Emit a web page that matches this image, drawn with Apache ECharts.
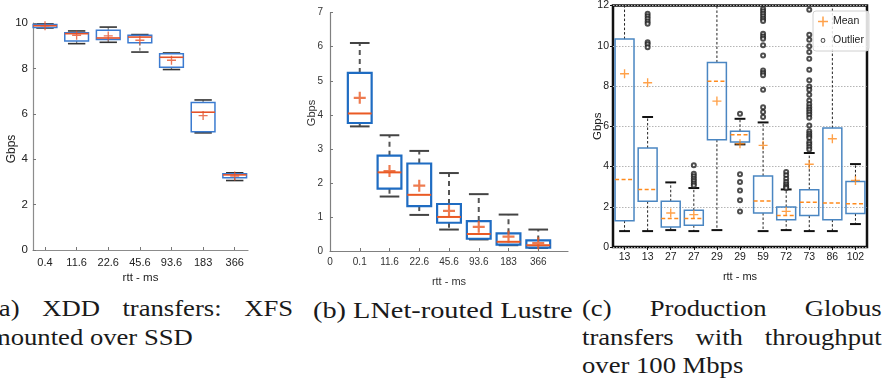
<!DOCTYPE html>
<html>
<head>
<meta charset="utf-8">
<script src="https://cdn.jsdelivr.net/npm/echarts@6.0.0/dist/echarts.min.js"></script>
<style>
    html, body { margin: 0; padding: 0; background: #fff; }
    body { width: 882px; height: 383px; position: relative; overflow: hidden; }
    #chart { position: absolute; left: 0; top: 0; width: 882px; height: 292px; }
    .cap {
        position: absolute;
        font-family: 'Liberation Serif', serif;
        font-size: 24px;
        line-height: 28.5px;
        color: #1a1a1a;
        transform-origin: 0 0;
    }
    .cap .j { text-align: justify; text-align-last: justify; }
    .cap .n { white-space: nowrap; }
</style>
</head>
<body>
<div id="chart"></div>
<div class="cap" style="left:-10px; top:294px; width:273px; transform:scaleX(1.11);">
    <div class="j">(a) XDD transfers: XFS</div>
    <div class="n">mounted over SSD</div>
</div>
<div class="cap" style="left:313px; top:296px; transform:scaleX(1.18);">
    <div class="n">(b) LNet-routed Lustre</div>
</div>
<div class="cap" style="left:582px; top:294px; width:270px; transform:scaleX(1.11);">
    <div class="j">(c) Production Globus</div>
    <div class="j">transfers with throughput</div>
    <div class="n">over 100 Mbps</div>
</div>
<script>
// (a) XDD transfers
var catsA = ['0.4', '11.6', '22.6', '45.6', '93.6', '183', '366'];
var lowA = [9.78, 9.09, 9.15, 8.72, 7.95, 5.16, 3.06];
var q1A = [9.80, 9.21, 9.27, 9.13, 8.05, 5.21, 3.18];
var medA = [9.88, 9.53, 9.34, 9.38, 8.49, 6.07, 3.31];
var q3A = [9.93, 9.57, 9.68, 9.46, 8.64, 6.50, 3.36];
var highA = [9.96, 9.65, 9.82, 9.49, 8.68, 6.61, 3.40];
var meanA = [9.88, 9.46, 9.43, 9.24, 8.36, 5.92, 3.26];

// (b) LNet-routed Lustre
var catsB = ['0.1', '11.6', '22.6', '45.6', '93.6', '183', '366'];
var lowB = [3.66, 1.60, 1.06, 0.63, 0.34, 0.17, 0.09];
var q1B = [3.76, 1.83, 1.32, 0.83, 0.36, 0.19, 0.10];
var medB = [4.04, 2.31, 1.65, 1.00, 0.50, 0.27, 0.17];
var q3B = [5.23, 2.80, 2.57, 1.38, 0.88, 0.52, 0.31];
var highB = [6.11, 3.40, 2.94, 2.29, 1.67, 1.07, 0.63];
var meanB = [4.50, 2.35, 1.92, 1.18, 0.71, 0.42, 0.23];

// (c) Production Globus transfers (whiskers above 12 run off the plot)
var catsC = ['13', '13', '27', '27', '29', '29', '59', '72', '73', '86', '102'];
var lowC = [0.79, 0.79, 0.84, 0.79, 0.84, 5.10, 0.79, 0.84, 0.79, 0.79, 1.14];
var q1C = [1.31, 2.27, 0.99, 1.08, 5.33, 5.22, 1.69, 1.36, 1.56, 1.36, 1.66];
var medC = [3.36, 2.86, 1.41, 1.41, 8.23, 5.58, 2.28, 1.57, 2.22, 2.19, 2.15];
var q3C = [10.33, 4.92, 2.27, 1.82, 9.17, 5.75, 3.53, 1.99, 2.85, 5.91, 3.26];
var highC = [14, 6.46, 3.21, 2.93, 14, 6.37, 6.19, 2.86, 4.67, 14, 4.12];
var meanC = [8.61, 8.16, 1.69, 1.61, 7.25, 5.13, 5.05, 1.77, 4.11, 5.38, 3.31];
var outC = [
    [],
    [11.59, 11.46, 11.34, 11.21, 11.09, 10.18, 10.07, 9.93],
    [],
    [4.06, 3.64, 3.51, 3.39, 3.28, 3.15, 3.06],
    [],
    [6.62, 3.61, 3.23, 2.81, 2.32, 1.77],
    [11.84, 11.72, 11.59, 11.47, 11.34, 11.23, 10.60, 10.46, 10.35, 10.02, 9.52, 8.77, 8.64, 8.53, 7.81, 6.95, 6.71, 6.46],
    [3.73, 3.56, 3.39, 3.23, 3.11, 3.01, 2.93],
    [11.79, 10.55, 10.30, 9.98, 9.69, 9.35, 8.81, 8.28, 7.98, 7.81, 7.57, 7.28, 7.09, 6.95, 6.82, 6.69, 6.57, 6.42, 6.04, 5.75, 5.63, 5.51, 5.41, 5.22, 5.10, 4.97, 4.85],
    [],
    []
];

var SANS = '"Liberation Sans", Arial, sans-serif';
var PLUS_THIN = 'path://M0,4.25H10V5.75H0ZM4.25,0H5.75V10H4.25Z';
var PLUS_BOLD = 'path://M0,4.1H10V5.9H0ZM4.1,0H5.9V10H4.1Z';
var RING = 'path://M0,0M10,10M5,2.6A2.4,2.4,0,1,1,5,7.4A2.4,2.4,0,1,1,5,2.6ZM5,3.6A1.4,1.4,0,1,0,5,6.4A1.4,1.4,0,1,0,5,3.6Z';

function boxData (offset, low, q1, med, q3, high) {
    return low.map(function (v, i) {
        return [i + offset, v, q1[i], med[i], q3[i], high[i]];
    });
}

function pointData (offset, vals) {
    return vals.map(function (v, i) { return [i + offset, v]; });
}

// box, whiskers, caps and median drawn through the axes of the grid
function makeBox (st) {
    return function (params, api) {
        var cs = params.coordSys;
        var top = cs.y, bottom = cs.y + cs.height;
        var x = api.value(0);
        var band = api.size([1, 0])[0];
        var half = band * st.box / 2;
        var capHalf = band * st.cap / 2;
        var pLo = api.coord([x, api.value(1)]);
        var pQ1 = api.coord([x, api.value(2)]);
        var pMed = api.coord([x, api.value(3)]);
        var pQ3 = api.coord([x, api.value(4)]);
        var pHi = api.coord([x, api.value(5)]);
        var cx = pMed[0];
        var kids = [];
        function wStyle () {
            return { stroke: st.whisker, lineWidth: st.whiskerWidth, lineDash: st.dash };
        }
        function cStyle () {
            return { stroke: st.capColor, lineWidth: st.capWidth };
        }
        kids.push({ type: 'line', shape: { x1: cx, y1: pQ3[1], x2: cx, y2: Math.max(pHi[1], top) }, style: wStyle() });
        kids.push({ type: 'line', shape: { x1: cx, y1: pQ1[1], x2: cx, y2: Math.min(pLo[1], bottom) }, style: wStyle() });
        if (pHi[1] >= top) {
            kids.push({ type: 'line', shape: { x1: cx - capHalf, y1: pHi[1], x2: cx + capHalf, y2: pHi[1] }, style: cStyle() });
        }
        if (pLo[1] <= bottom) {
            kids.push({ type: 'line', shape: { x1: cx - capHalf, y1: pLo[1], x2: cx + capHalf, y2: pLo[1] }, style: cStyle() });
        }
        kids.push({
            type: 'rect',
            shape: { x: cx - half, y: pQ3[1], width: half * 2, height: pQ1[1] - pQ3[1] },
            style: { fill: 'none', stroke: st.boxColor, lineWidth: st.boxWidth }
        });
        kids.push({
            type: 'line',
            shape: { x1: cx - half, y1: pMed[1], x2: cx + half, y2: pMed[1] },
            style: { stroke: st.medColor, lineWidth: st.medWidth, lineDash: st.medDash }
        });
        return { type: 'group', children: kids };
    };
}

var styleA = { box: 0.75, cap: 0.55, boxColor: '#3b7bd0', boxWidth: 1.5, medColor: '#e5532a', medWidth: 1.6,
    whisker: '#777', whiskerWidth: 1.2, dash: [3, 2], capColor: '#333', capWidth: 1.6, medDash: null };
var styleB = { box: 0.8, cap: 0.66, boxColor: '#1f6cc2', boxWidth: 2.2, medColor: '#ea5a24', medWidth: 2,
    whisker: '#555', whiskerWidth: 2, dash: [5, 4], capColor: '#444', capWidth: 2, medDash: null };
var styleC = { box: 0.82, cap: 0.47, boxColor: '#4a86c2', boxWidth: 1.5, medColor: '#ff8a1c', medWidth: 1.5,
    whisker: '#222', whiskerWidth: 1, dash: [2.5, 2], capColor: '#111', capWidth: 2, medDash: [4, 2.5] };

var outData = [];
outC.forEach(function (list, i) {
    list.forEach(function (v) { outData.push([i, v]); });
});

var idx = [1, 2, 3, 4, 5, 6, 7];

var option = {
    animation: false,
    backgroundColor: 'transparent',
    grid: [
        { left: 33, top: 23, width: 215, height: 227 },
        { left: 330, top: 12.7, width: 238, height: 242.6 },
        { left: 613, top: 5, width: 254, height: 242, show: true, borderColor: '#111', borderWidth: 2.5, backgroundColor: 'transparent' }
    ],
    legend: {
        data: [{ name: 'Mean', icon: PLUS_THIN }, { name: 'Outlier', icon: RING }],
        orient: 'vertical',
        left: 813,
        top: 11,
        itemWidth: 10,
        itemHeight: 10,
        itemGap: 8,
        padding: [5, 5, 5, 5],
        backgroundColor: 'rgba(255,255,255,0.85)',
        borderColor: '#d0d0d0',
        borderWidth: 1,
        borderRadius: 3,
        selectedMode: false,
        textStyle: { fontFamily: SANS, fontSize: 10.5, color: '#222' }
    },
    graphic: [
        { type: 'text', x: 12, y: 149, rotation: Math.PI / 2,
          style: { text: 'Gbps', fontSize: 12, fontFamily: SANS, fill: '#222', align: 'center', verticalAlign: 'middle' } },
        { type: 'text', x: 312, y: 113, rotation: Math.PI / 2,
          style: { text: 'Gbps', fontSize: 11, fontFamily: SANS, fill: '#333', align: 'center', verticalAlign: 'middle' } }
    ],
    xAxis: [
        {
            type: 'value', gridIndex: 0, min: 0.62, max: 7.42,
            axisLine: { show: true, lineStyle: { color: '#8c8c8c', width: 1.2 } },
            axisTick: { show: true, inside: true, length: 3, customValues: idx, lineStyle: { color: '#777' } },
            axisLabel: { customValues: idx, margin: 7, fontSize: 11, fontFamily: SANS, color: '#222',
                formatter: function (v) { return catsA[Math.round(v) - 1]; } },
            splitLine: { show: false },
            name: 'rtt - ms', nameLocation: 'middle', nameGap: 22, nameMoveOverlap: false,
            nameTextStyle: { fontSize: 11.5, fontFamily: SANS, color: '#222' }
        },
        {
            type: 'value', gridIndex: 1, min: 0, max: 8,
            axisLine: { show: true, lineStyle: { color: '#808080', width: 1.2 } },
            axisTick: { show: true, inside: true, length: 3, customValues: idx, lineStyle: { color: '#777' } },
            axisLabel: { customValues: [0, 1, 2, 3, 4, 5, 6, 7], margin: 6, fontSize: 10, fontFamily: SANS, color: '#333',
                formatter: function (v) { return v === 0 ? '0' : catsB[Math.round(v) - 1]; } },
            splitLine: { show: false },
            name: 'rtt - ms', nameLocation: 'middle', nameGap: 25,
            nameTextStyle: { fontSize: 11, fontFamily: SANS, color: '#333' }
        },
        {
            type: 'category', gridIndex: 2, data: catsC,
            axisLine: { show: false },
            axisTick: { show: true, alignWithLabel: true, length: 3, lineStyle: { color: '#111' } },
            axisLabel: { interval: 0, margin: 5, fontSize: 10.5, fontFamily: SANS, color: '#222' },
            splitLine: { show: false },
            name: 'rtt - ms', nameLocation: 'middle', nameGap: 24,
            nameTextStyle: { fontSize: 11, fontFamily: SANS, color: '#222' }
        }
    ],
    yAxis: [
        {
            type: 'value', gridIndex: 0, min: 0, max: 10, interval: 2,
            axisLine: { show: true, lineStyle: { color: '#8c8c8c', width: 1.2 } },
            axisTick: { show: true, inside: true, length: 3, lineStyle: { color: '#777' } },
            axisLabel: { margin: 5, fontSize: 11.5, fontFamily: SANS, color: '#222' },
            splitLine: { show: false }
        },
        {
            type: 'value', gridIndex: 1, min: 0, max: 7, interval: 1,
            axisLine: { show: true, lineStyle: { color: '#808080', width: 1.2 } },
            axisTick: { show: true, inside: true, length: 3, lineStyle: { color: '#777' } },
            axisLabel: { margin: 7, fontSize: 10, fontFamily: SANS, color: '#333' },
            splitLine: { show: false }
        },
        {
            type: 'value', gridIndex: 2, min: 0, max: 12, interval: 2,
            axisLine: { show: false },
            axisTick: { show: true, length: 3, lineStyle: { color: '#111' } },
            axisLabel: { margin: 4, fontSize: 10.5, fontFamily: SANS, color: '#222' },
            splitLine: { show: true, lineStyle: { color: '#b5b5b5', type: [1.5, 1.5], width: 1 } },
            name: 'Gbps', nameLocation: 'middle', nameRotate: 90, nameGap: 9, nameMoveOverlap: false,
            nameTextStyle: { fontSize: 11.5, fontFamily: SANS, color: '#222' }
        }
    ],
    series: [
        { name: 'box-a', type: 'custom', xAxisIndex: 0, yAxisIndex: 0, renderItem: makeBox(styleA),
          encode: { x: 0, y: [1, 2, 3, 4, 5] }, data: boxData(1, lowA, q1A, medA, q3A, highA) },
        { name: 'mean-a', type: 'scatter', xAxisIndex: 0, yAxisIndex: 0, symbol: PLUS_THIN, symbolSize: 9,
          itemStyle: { color: '#e5532a' }, data: pointData(1, meanA), z: 5 },
        { name: 'box-b', type: 'custom', xAxisIndex: 1, yAxisIndex: 1, renderItem: makeBox(styleB),
          encode: { x: 0, y: [1, 2, 3, 4, 5] }, data: boxData(1, lowB, q1B, medB, q3B, highB) },
        { name: 'mean-b', type: 'scatter', xAxisIndex: 1, yAxisIndex: 1, symbol: PLUS_BOLD, symbolSize: 12,
          itemStyle: { color: '#ea5a24' }, data: pointData(1, meanB), z: 5 },
        { name: 'box-c', type: 'custom', xAxisIndex: 2, yAxisIndex: 2, renderItem: makeBox(styleC),
          encode: { x: 0, y: [1, 2, 3, 4, 5] }, data: boxData(0, lowC, q1C, medC, q3C, highC) },
        { name: 'Outlier', type: 'scatter', xAxisIndex: 2, yAxisIndex: 2, symbol: 'emptyCircle', symbolSize: 4,
          itemStyle: { color: '#222', borderWidth: 1 }, data: outData, z: 4 },
        { name: 'Mean', type: 'scatter', xAxisIndex: 2, yAxisIndex: 2, symbol: PLUS_THIN, symbolSize: 9,
          itemStyle: { color: '#ff8a1c' }, data: pointData(0, meanC), z: 5 }
    ]
};

var chart = echarts.init(document.getElementById('chart'));
chart.setOption(option);
</script>
</body>
</html>
